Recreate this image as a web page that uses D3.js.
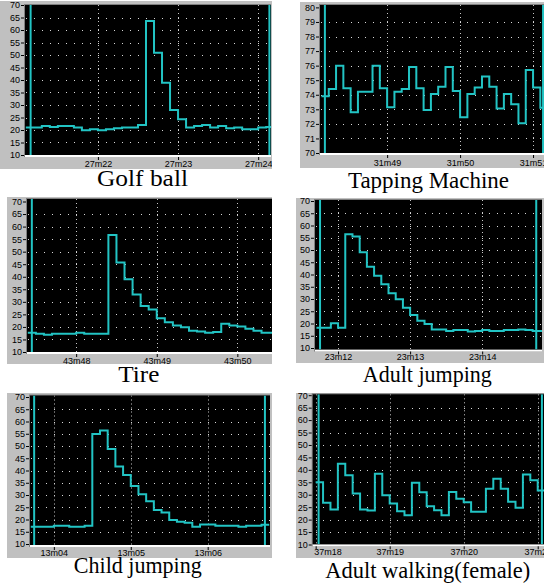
<!DOCTYPE html>
<html>
<head>
<meta charset="utf-8">
<script src="https://cdn.jsdelivr.net/npm/d3@7"></script>
<style>
body { margin: 0; background: #fff; }
svg { display: block; }
</style>
</head>
<body>
<div id="chart"></div>
<script>
// sound level (dB) traces, one reading every 0.1 s
var golfValues = [21, 21, 21.6, 21.2, 21.6, 21.6, 21, 19.9, 20.3, 19.9, 20.3, 20.7, 21, 21, 22,
    63.6, 50.9, 38.9, 28, 24.3, 21, 21.6, 22, 21, 21.6, 20.7, 21, 20.3, 20.3, 21, 21.2];
var tappingValues = [73.9, 74.4, 76, 74.45, 72.8, 74.2, 74.2, 76, 74.45, 73.15, 74.2, 74.4, 75.9,
    74.45, 72.95, 74.05, 74.55, 75.9, 74.25, 72.45, 74.05, 74.5, 75.25, 74.55, 73.05, 74.05,
    73.35, 72.05, 75.7, 74.5, 73.1];
var tireValues = [17.7, 17.3, 16.9, 17.3, 17.3, 17.3, 17.7, 17.3, 17.3, 17.3, 56.6, 45.7, 39,
    32.9, 28.3, 26.9, 23.5, 21.9, 20.6, 19.9, 18.5, 18.2, 17.7, 18, 21.3, 20.6, 20.2, 19.3,
    18.5, 17.7, 17.7];
var adultJumpValues = [18.3, 18.3, 20.1, 18.3, 56.4, 55.5, 49.1, 43.2, 39.5, 36, 32.3, 29.9, 26.4,
    23.5, 21.1, 19.8, 17.6, 17.6, 16.9, 17.3, 17.3, 16.7, 16.9, 17.3, 16.9, 16.9, 17.3, 17.3,
    17.6, 17.3, 16.9, 16.9];
var childJumpValues = [17, 17, 17, 17.5, 17.5, 17, 17, 17.5, 54.9, 56.3, 48.8, 41.6, 38.2, 33.7,
    30.3, 27.5, 23.9, 22.9, 19.8, 19.1, 18.7, 17, 18, 18, 17.5, 17.5, 17.5, 17, 17.5, 17.5, 17.9];
var adultWalkValues = [35, 26.8, 24.1, 42.5, 37.8, 30.5, 24.1, 23.7, 38.4, 29.8, 26.5, 23.4, 21.8,
    34.8, 31, 25.4, 23.8, 21.8, 31.1, 28.4, 27, 23.2, 23.2, 32.4, 36.4, 32.4, 27.2, 24.8, 38.1,
    35.8, 31.7];

// time (s) of the first reading in each trace
var golfStart = 21.1, tappingStart = 48.1, tireStart = 47.4,
    adultJumpStart = 11.7, childJumpStart = 3.7, adultWalkStart = 18.0;

// x ticks (seconds) and their labels
var golfTicks = [22, 23, 24], golfTickLabels = ["27m22", "27m23", "27m24"];
var tappingTicks = [49, 50, 51], tappingTickLabels = ["31m49", "31m50", "31m51"];
var tireTicks = [48, 49, 50], tireTickLabels = ["43m48", "43m49", "43m50"];
var adultJumpTicks = [12, 13, 14], adultJumpTickLabels = ["23m12", "23m13", "23m14"];
var childJumpTicks = [4, 5, 6], childJumpTickLabels = ["13m04", "13m05", "13m06"];
var adultWalkTicks = [18, 19, 20, 21], adultWalkTickLabels = ["37m18", "37m19", "37m20", "37m21"];

// cursor positions (seconds)
var golfCursors = [21.16, 24.14], tappingCursors = [48.147, 51.137], tireCursors = [47.45],
    adultJumpCursors = [11.75, 14.75], childJumpCursors = [3.744, 6.744],
    adultWalkCursors = [18.04, 21.057];

var titles = ["Golf ball", "Tapping Machine", "Tire", "Adult jumping", "Child jumping",
    "Adult walking(female)"];

var lineColor = "#22c4c4";

var panels = [
    {values: golfValues, start: golfStart, ticks: golfTicks, labels: golfTickLabels,
     cursors: golfCursors, yDomain: [10, 70], yStep: 5, xDomain: [21.09, 24.16],
     frame: [0, 1, 272, 169], plot: [25, 5, 271, 155], yRange: [155, 5],
     labelY: 166.5, titleX: 142.5, titleY: 186, titleW: 91},
    {values: tappingValues, start: tappingStart, ticks: tappingTicks, labels: tappingTickLabels,
     cursors: tappingCursors, yDomain: [70, 80], yStep: 1, xDomain: [48.08, 51.15],
     frame: [300, 2, 544, 168], plot: [320, 5, 544, 153], yRange: [153, 7.4],
     labelY: 165.5, titleX: 428.5, titleY: 187.5, titleW: 161},
    {values: tireValues, start: tireStart, ticks: tireTicks, labels: tireTickLabels,
     cursors: tireCursors, yDomain: [10, 70], yStep: 5, xDomain: [47.39, 50.43],
     frame: [7, 197, 272, 364], plot: [27, 199, 272, 352], yRange: [352, 201.5],
     labelY: 364, titleX: 138.8, titleY: 381.7, titleW: 41},
    {values: adultJumpValues, start: adultJumpStart, ticks: adultJumpTicks, labels: adultJumpTickLabels,
     cursors: adultJumpCursors, yDomain: [10, 70], yStep: 5, xDomain: [11.68, 14.83],
     frame: [296, 198, 544, 363], plot: [315, 200, 542, 349.5], yRange: [348, 201],
     labelY: 359.5, titleX: 427.3, titleY: 382.3, titleW: 129},
    {values: childJumpValues, start: childJumpStart, ticks: childJumpTicks, labels: childJumpTickLabels,
     cursors: childJumpCursors, yDomain: [10, 70], yStep: 5, xDomain: [3.69, 6.81],
     frame: [7, 393, 272, 558], plot: [30, 395.5, 270, 545], yRange: [544, 397],
     labelY: 555.5, titleX: 137.8, titleY: 573.3, titleW: 128},
    {values: adultWalkValues, start: adultWalkStart, ticks: adultWalkTicks, labels: adultWalkTickLabels,
     cursors: adultWalkCursors, yDomain: [10, 70], yStep: 5, xDomain: [17.96, 21.085],
     frame: [296, 393, 544, 558], plot: [312.7, 394.3, 544, 544.3], yRange: [544.5, 395.2],
     labelY: 555.5, titleX: 427.8, titleY: 577.7, titleW: 205}
];

var svg = d3.select("#chart").append("svg")
    .attr("width", 544)
    .attr("height", 584);

var defs = svg.append("defs");

panels.forEach(function(p, i) {
    p.title = titles[i];
    drawPanel(p, i);
});

function drawPanel(p, idx) {
    var fx0 = p.frame[0], fy0 = p.frame[1], fx1 = p.frame[2], fy1 = p.frame[3];
    var px0 = p.plot[0], py0 = p.plot[1], px1 = p.plot[2], py1 = p.plot[3];

    defs.append("clipPath").attr("id", "frame" + idx)
        .append("rect")
        .attr("x", fx0).attr("y", fy0)
        .attr("width", fx1 - fx0).attr("height", fy1 - fy0);
    defs.append("clipPath").attr("id", "plot" + idx)
        .append("rect")
        .attr("x", px0).attr("y", py0)
        .attr("width", px1 - px0).attr("height", py1 - py0);

    var g = svg.append("g").attr("clip-path", "url(#frame" + idx + ")");

    g.append("rect")
        .attr("x", fx0).attr("y", fy0)
        .attr("width", fx1 - fx0).attr("height", fy1 - fy0)
        .attr("fill", "#c0c0c0");

    // sunken border round the plot
    g.append("rect")
        .attr("x", px0 - 1).attr("y", py0 - 1)
        .attr("width", px1 - px0 + 1).attr("height", py1 - py0 + 3)
        .attr("fill", "#808080");
    g.append("rect")
        .attr("x", px0).attr("y", py1)
        .attr("width", px1 - px0).attr("height", 2)
        .attr("fill", "#fff");
    g.append("rect")
        .attr("x", px0).attr("y", py0)
        .attr("width", px1 - px0).attr("height", py1 - py0)
        .attr("fill", "#000");

    var x = d3.scaleLinear().domain(p.xDomain).range([px0, px1]);
    var y = d3.scaleLinear().domain(p.yDomain).range(p.yRange);

    var yTicks = d3.range(p.yDomain[0], p.yDomain[1] + 0.001, p.yStep);

    // dotted grid
    var grid = g.append("g").attr("clip-path", "url(#plot" + idx + ")");
    var rowTimes = d3.range(Math.ceil(p.xDomain[0] * 10), Math.floor(p.xDomain[1] * 10) + 1)
        .map(function(d) { return d / 10; });
    yTicks.slice(1, -1).forEach(function(v) {
        grid.selectAll(null)
            .data(rowTimes)
            .enter().append("rect")
            .attr("x", function(t) { return Math.round(x(t)); })
            .attr("y", Math.round(y(v)))
            .attr("width", 1).attr("height", 1)
            .attr("fill", "#d8d8d8");
    });
    grid.selectAll(null)
        .data(p.ticks)
        .enter().append("line")
        .attr("x1", function(t) { return Math.round(x(t)) + 0.5; })
        .attr("x2", function(t) { return Math.round(x(t)) + 0.5; })
        .attr("y1", py0)
        .attr("y2", py1)
        .attr("stroke", "#c8c8c8")
        .attr("stroke-dasharray", "1,3");

    // cursors
    grid.selectAll(null)
        .data(p.cursors)
        .enter().append("line")
        .attr("x1", function(t) { return x(t); })
        .attr("x2", function(t) { return x(t); })
        .attr("y1", py0)
        .attr("y2", py1)
        .attr("stroke", lineColor)
        .attr("stroke-width", 2);

    // step trace
    var pts = p.values.map(function(v, i) { return [p.start + i * 0.1, v]; });
    pts.push([p.start + p.values.length * 0.1, p.values[p.values.length - 1]]);
    var line = d3.line()
        .x(function(d) { return x(d[0]); })
        .y(function(d) { return y(d[1]); })
        .curve(d3.curveStepAfter);
    grid.append("path")
        .datum(pts)
        .attr("d", line)
        .attr("fill", "none")
        .attr("stroke", lineColor)
        .attr("stroke-width", 2)
        .attr("stroke-linejoin", "miter");

    // axes
    var yAxis = g.append("g")
        .attr("transform", "translate(" + (px0 - 1) + ",0)")
        .call(d3.axisLeft(y).tickValues(yTicks).tickSize(3).tickPadding(1));
    yAxis.select(".domain").remove();
    yAxis.selectAll("line").attr("stroke", "#000");
    yAxis.selectAll("text")
        .style("font", "9px 'Liberation Sans', Arial, sans-serif")
        .attr("fill", "#000");

    var axisY = py1 + 2;
    var xAxis = g.append("g")
        .attr("transform", "translate(0," + axisY + ")")
        .call(d3.axisBottom(x).tickValues(p.ticks).tickSize(3)
            .tickFormat(function(d, i) { return p.labels[i]; }));
    xAxis.select(".domain").remove();
    xAxis.selectAll("line").attr("stroke", "#000");
    xAxis.selectAll("text")
        .style("font", "9px 'Liberation Sans', Arial, sans-serif")
        .attr("fill", "#000")
        .attr("y", p.labelY - axisY)
        .attr("dy", null)
        .each(function(d) {
            // keep the first label inside the plot, as the recorder does
            var w = this.getComputedTextLength();
            if (x(d) - w / 2 < px0) {
                d3.select(this).attr("text-anchor", "start").attr("x", px0 + 1 - x(d));
            }
        });

    svg.append("text")
        .attr("x", p.titleX)
        .attr("y", p.titleY)
        .attr("text-anchor", "middle")
        .attr("textLength", p.titleW)
        .attr("lengthAdjust", "spacingAndGlyphs")
        .style("font", "24px 'Liberation Serif', 'Times New Roman', serif")
        .attr("fill", "#000")
        .text(p.title);
}
</script>
</body>
</html>
